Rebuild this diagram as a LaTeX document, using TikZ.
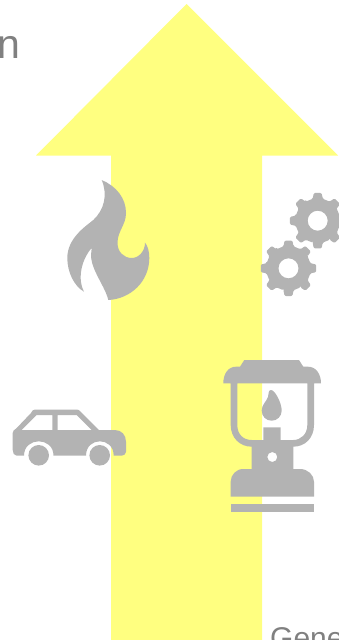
\documentclass[tikz,border=0pt]{standalone}
\usepackage{fontspec}
\setmainfont{Liberation Sans}
\definecolor{arrowyellow}{HTML}{FFFF80}
\definecolor{icongray}{HTML}{B3B3B3}
\definecolor{textgray}{HTML}{808080}
\tikzset{
  icon/.style={fill=icongray,even odd rule},
  labeltext/.style={anchor=base west,inner sep=0pt,text=textgray}
}
\begin{document}
\begin{tikzpicture}[x=1pt,y=-1pt]
\useasboundingbox (0,0) rectangle (339,640);
\clip (0,0) rectangle (339,640);
% arrow
\fill[arrowyellow] (186.5,4) -- (338,155.5) -- (262,155.5) -- (262,640) -- (111,640) -- (111,155.5) -- (36,155.5) -- cycle;
% texts
\node[labeltext,font=\fontsize{41}{41}\selectfont] (tn) at (-3,58.5) {n};
\node[labeltext,font=\fontsize{30}{30}\selectfont] (tg) at (270,648) {Gene};
% flame
\fill[icon] (101.7,180)
  .. controls (116,186) and (126,198) .. (126,213)
  .. controls (126,225) and (117.5,231) .. (117.5,243)
  .. controls (117.5,252) and (124,258) .. (131.7,258)
  .. controls (139,258) and (145,251) .. (145,242.7)
  .. controls (148,246) and (149.3,252) .. (149.3,258)
  .. controls (149.3,282) and (130,299) .. (108.3,300)
  .. controls (105,286) and (91,270) .. (91,255)
  -- (91.7,248)
  .. controls (84,256) and (76,276) .. (84,291.7)
  .. controls (74,286) and (67.3,272) .. (67.3,258)
  .. controls (67.3,238) and (86,226) .. (93.3,220)
  .. controls (104,210) and (108,195) .. (101.7,180) -- cycle;
% gears
\begin{scope}[shift={(317.7,220.7)},y=1pt]
  \fill[icon,rounded corners=1.2pt]
    (-15:22.5) \foreach \a in {0,45,...,315}{ -- (\a-13:22.5) -- (\a-8:28) -- (\a+8:28) -- (\a+13:22.5) -- (\a+32:22.5)} -- cycle
    (0,0) circle (10);
\end{scope}
\begin{scope}[shift={(288.5,268.3)},y=1pt]
  \fill[icon,rounded corners=1.2pt]
    (-15:22.5) \foreach \a in {0,45,...,315}{ -- (\a-13:22.5) -- (\a-8:28) -- (\a+8:28) -- (\a+13:22.5) -- (\a+32:22.5)} -- cycle
    (0,0) circle (10);
\end{scope}
% car
\fill[icon] (35,409.5) -- (76,409.5) .. controls (78,409.5) and (79,410) .. (80,411)
  -- (99,430) -- (115,430)
  .. controls (121.5,430) and (126,435) .. (126,441.7)
  -- (126,451.7) .. controls (126,454) and (124,455.7) .. (121.7,455.7)
  -- (113.7,455.7) .. controls (113.7,436.5) and (86,436.5) .. (86,455.7)
  -- (53.5,455.7) .. controls (53.5,436.5) and (24,436.5) .. (24,455.7)
  -- (16.7,455.7) .. controls (14,455.7) and (12.7,453) .. (12.7,450)
  -- (12.7,433) .. controls (12.7,431) and (14,430) .. (16.7,428)
  -- (31,413) .. controls (32,411) and (33,409.5) .. (35,409.5) -- cycle
  (21.7,430) -- (36.7,415) -- (52.3,415) -- (52.3,430) -- cycle
  (57.7,415) -- (76.7,415) -- (91.7,430) -- (57.7,430) -- cycle;
\fill[icon] (38.7,455.3) circle (10.3);
\fill[icon] (99.7,455.3) circle (10.3);
% lantern
\fill[icon] (244.3,360) -- (299,360) -- (303.3,366.7) -- (308,366.7)
  .. controls (316,366.7) and (321,374) .. (321,383.3)
  -- (314,383.3) -- (314,425)
  .. controls (314,438) and (305,446.7) .. (293.3,446.7)
  -- (293.3,469) -- (300,469)
  .. controls (308,469) and (314,475) .. (314,481.7)
  -- (314,496.7) -- (230.7,496.7) -- (230.7,481.7)
  .. controls (230.7,475) and (236,469) .. (243.3,469)
  -- (251.7,469) -- (251.7,446.7)
  .. controls (240,446.7) and (230.7,438) .. (230.7,425)
  -- (230.7,383.3) -- (223.3,383.3)
  .. controls (223.3,374) and (228,366.7) .. (236,366.7)
  -- (240,366.7) -- cycle
  (237.3,383.3) -- (237.3,425)
  .. controls (237.3,434) and (243,440) .. (251.7,440)
  -- (263.3,440) -- (263.3,427.3) -- (280.7,427.3) -- (280.7,440) -- (293.3,440)
  .. controls (301,440) and (307.3,434) .. (307.3,425)
  -- (307.3,383.3) -- cycle
  (272.3,457) circle (5);
\fill[icon] (230.7,504) rectangle (314,512.3);
\fill[icon] (271,390)
  .. controls (275,390) and (281.7,403) .. (281.7,410.5)
  .. controls (281.7,416.5) and (277,420.7) .. (271.7,420.7)
  .. controls (266,420.7) and (261.7,416.5) .. (261.7,410.5)
  .. controls (261.7,405) and (266,402) .. (268,397)
  .. controls (269,394) and (268,390) .. (271,390) -- cycle;
\end{tikzpicture}
\end{document}
